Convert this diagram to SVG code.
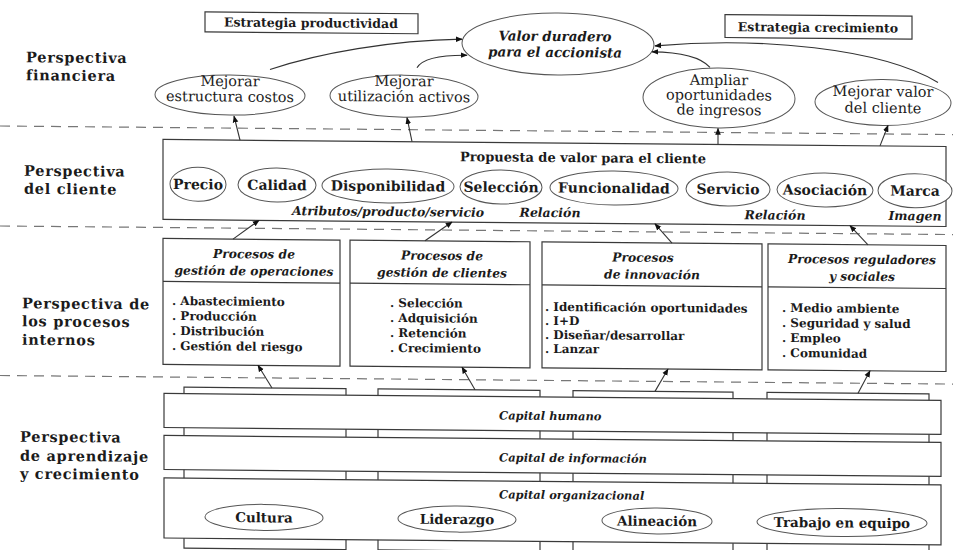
<svg xmlns="http://www.w3.org/2000/svg" width="953" height="550" viewBox="0 0 953 550">
<defs>
<style>
.t{font-family:"DejaVu Serif","Liberation Serif",serif;fill:#1b1b1b}
.b{font-weight:bold}
.i{font-style:italic}
.m{text-anchor:middle}
.lab{font-size:14.5px;font-weight:bold;letter-spacing:0.7px}
.box{fill:#fff;stroke:#3a3a3a;stroke-width:1.2}
.ell{fill:#fff;stroke:#555;stroke-width:1}
.dash{fill:none;stroke:#777;stroke-width:1.2;stroke-dasharray:10 7}
.con{fill:none;stroke:#333;stroke-width:1.1;marker-end:url(#ah)}
.fe{font-size:14.5px}
.ce{font-size:14px;font-weight:bold}
.ph{font-size:12.3px;font-weight:bold;font-style:italic}
.it{font-size:12px;font-weight:bold}
.cap{font-size:11.5px;font-weight:bold;font-style:italic}
.sub{font-size:12.5px;font-weight:bold;font-style:italic}
.le{font-size:13.5px;font-weight:bold}
</style>
<marker id="ah" viewBox="0 0 10 10" refX="9" refY="5" markerWidth="7" markerHeight="7" markerUnits="userSpaceOnUse" orient="auto"><path d="M0,1 L10,5 L0,9 z" fill="#111"/></marker>
</defs>
<rect width="953" height="550" fill="#fff"/>
<g transform="matrix(1 0.009 0 1 0 0)">
<g id="separators">
<line class="dash" x1="0" y1="126" x2="953" y2="126"/>
<line class="dash" x1="0" y1="226" x2="953" y2="226"/>
<line class="dash" x1="0" y1="375.5" x2="953" y2="375.5"/>
</g>
<g id="perspective-labels">
<text class="t lab" x="26" y="62">Perspectiva</text>
<text class="t lab" x="26" y="80">financiera</text>
<text class="t lab" x="24" y="175.5">Perspectiva</text>
<text class="t lab" x="24" y="193.5">del cliente</text>
<text class="t lab" x="22" y="308">Perspectiva de</text>
<text class="t lab" x="22" y="326">los procesos</text>
<text class="t lab" x="22" y="344.5">internos</text>
<text class="t lab" x="20" y="441.5">Perspectiva</text>
<text class="t lab" x="20" y="460.5">de aprendizaje</text>
<text class="t lab" x="20" y="478.5">y crecimiento</text>
</g>
<g id="estrategia-productividad"><rect class="box" x="205" y="10" width="213" height="20"/><text class="t b m" x="311" y="24.5" font-size="12.5">Estrategia productividad</text></g>
<g id="estrategia-crecimiento"><rect class="box" x="725" y="8" width="187" height="23"/><text class="t b m" x="818" y="24.5" font-size="12.5">Estrategia crecimiento</text></g>
<g id="valor-accionista"><ellipse class="ell" cx="558" cy="39" rx="96" ry="31"/><text class="t b i m" x="555" y="36" font-size="13.5">Valor duradero</text><text class="t b i m" x="555" y="52" font-size="13.5">para el accionista</text></g>
<g id="mejorar-costos"><ellipse class="ell" cx="230" cy="93" rx="75" ry="20"/><text class="t fe m" x="230" y="84">Mejorar</text><text class="t fe m" x="230" y="99.5">estructura costos</text></g>
<g id="mejorar-activos"><ellipse class="ell" cx="404" cy="92.5" rx="74" ry="21"/><text class="t fe m" x="404" y="82.5">Mejorar</text><text class="t fe m" x="404" y="98">utilización activos</text></g>
<g id="ampliar-ingresos"><ellipse class="ell" cx="719" cy="91.5" rx="76" ry="30"/><text class="t fe m" x="719" y="78.5">Ampliar</text><text class="t fe m" x="719" y="93.5">oportunidades</text><text class="t fe m" x="719" y="108.5">de ingresos</text></g>
<g id="mejorar-valor-cliente"><ellipse class="ell" cx="883" cy="94.5" rx="68" ry="23"/><text class="t fe m" x="883" y="88.5">Mejorar valor</text><text class="t fe m" x="883" y="105">del cliente</text></g>

<g id="propuesta-valor">
<rect class="box" x="163" y="138" width="783" height="80"/>
<text class="t b m" x="583" y="157" font-size="13">Propuesta de valor para el cliente</text>
<ellipse class="ell" cx="198" cy="182.5" rx="28" ry="17"/><text class="t ce m" x="198" y="187.5">Precio</text>
<ellipse class="ell" cx="277" cy="182.5" rx="39" ry="17"/><text class="t ce m" x="277" y="187.5">Calidad</text>
<ellipse class="ell" cx="388" cy="182.5" rx="66" ry="17"/><text class="t ce m" x="388" y="187.5">Disponibilidad</text>
<ellipse class="ell" cx="501" cy="182.5" rx="41" ry="17"/><text class="t ce m" x="501" y="187.5">Selección</text>
<ellipse class="ell" cx="614" cy="182.5" rx="64" ry="17"/><text class="t ce m" x="614" y="187.5">Funcionalidad</text>
<ellipse class="ell" cx="728" cy="182.5" rx="42" ry="17"/><text class="t ce m" x="728" y="187.5">Servicio</text>
<ellipse class="ell" cx="825" cy="182.5" rx="48" ry="17"/><text class="t ce m" x="825" y="187.5">Asociación</text>
<ellipse class="ell" cx="915" cy="182.5" rx="37" ry="17"/><text class="t ce m" x="915" y="187.5">Marca</text>
<text class="t sub m" x="388" y="212.5">Atributos/producto/servicio</text>
<text class="t sub m" x="550" y="212">Relación</text>
<text class="t sub m" x="775" y="212.5">Relación</text>
<text class="t sub m" x="915" y="212">Imagen</text>
</g>

<g id="procesos-operaciones">
<rect class="box" x="163" y="237" width="177" height="126"/><line class="box" x1="163" y1="280" x2="340" y2="280"/>
<text class="t ph m" x="254" y="256">Procesos de</text><text class="t ph m" x="254" y="273">gestión de operaciones</text>
<text class="t it" x="172" y="303.5">. Abastecimiento</text><text class="t it" x="172" y="318.5">. Producción</text><text class="t it" x="172" y="333.5">. Distribución</text><text class="t it" x="172" y="348.5">. Gestión del riesgo</text>
</g>
<g id="procesos-clientes">
<rect class="box" x="350" y="237" width="180" height="126"/><line class="box" x1="350" y1="280" x2="530" y2="280"/>
<text class="t ph m" x="442" y="256">Procesos de</text><text class="t ph m" x="442" y="273">gestión de clientes</text>
<text class="t it" x="390" y="303.5">. Selección</text><text class="t it" x="390" y="318.5">. Adquisición</text><text class="t it" x="390" y="333.5">. Retención</text><text class="t it" x="390" y="348.5">. Crecimiento</text>
</g>
<g id="procesos-innovacion">
<rect class="box" x="542" y="237" width="220" height="126"/><line class="box" x1="542" y1="280" x2="762" y2="280"/>
<text class="t ph m" x="643" y="256">Procesos</text><text class="t ph m" x="652" y="273">de innovación</text>
<text class="t it" x="545" y="306" font-size="12.4">. Identificación oportunidades</text><text class="t it" x="545" y="320" font-size="12.4">. I+D</text><text class="t it" x="545" y="334" font-size="12.4">. Diseñar/desarrollar</text><text class="t it" x="545" y="348" font-size="12.4">. Lanzar</text>
</g>
<g id="procesos-reguladores">
<rect class="box" x="768" y="237" width="178" height="126"/><line class="box" x1="768" y1="280" x2="946" y2="280"/>
<text class="t ph m" x="862" y="256">Procesos reguladores</text><text class="t ph m" x="862" y="273">y sociales</text>
<text class="t it" x="782" y="305">. Medio ambiente</text><text class="t it" x="782" y="320">. Seguridad y salud</text><text class="t it" x="782" y="335">. Empleo</text><text class="t it" x="782" y="350">. Comunidad</text>
</g>

<g id="pilares">
<rect class="box" x="184" y="385.5" width="162" height="161"/>
<rect class="box" x="378" y="385.5" width="162" height="161"/>
<rect class="box" x="573" y="385.5" width="160" height="161"/>
<rect class="box" x="767" y="385.5" width="162" height="161"/>
</g>
<g id="capital-humano"><rect class="box" x="164" y="392" width="777" height="34"/><text class="t cap" x="499" y="415">Capital humano</text></g>
<g id="capital-informacion"><rect class="box" x="164" y="434" width="777" height="34"/><text class="t cap" x="499" y="457">Capital de información</text></g>
<g id="capital-organizacional"><rect class="box" x="164" y="476.5" width="777" height="60"/><text class="t cap" x="499" y="494">Capital organizacional</text>
<ellipse class="ell" cx="264" cy="515" rx="59" ry="13"/><text class="t le m" x="264" y="520">Cultura</text>
<ellipse class="ell" cx="457" cy="515" rx="59" ry="13"/><text class="t le m" x="457" y="520">Liderazgo</text>
<ellipse class="ell" cx="657" cy="515" rx="55" ry="13"/><text class="t le m" x="657" y="520">Alineación</text>
<ellipse class="ell" cx="842" cy="515" rx="85" ry="14"/><text class="t le m" x="842" y="520">Trabajo en equipo</text>
</g>

<g id="connectors">
<path class="con" d="M270,67 C320,50 390,37 462,35"/>
<path class="con" d="M417,64 C422,55 440,51 467,51"/>
<path class="con" d="M710,61 C700,50 680,46 652,46"/>
<path class="con" d="M938,74 C880,40 760,30 655,40"/>
<path class="con" d="M240,138 L234,114"/>
<path class="con" d="M412,138 L407,114"/>
<path class="con" d="M718,138 L718,122"/>
<path class="con" d="M880,138 L888,117.5"/>
<path class="con" d="M233,237 L259,218"/>
<path class="con" d="M425,237 L452,218"/>
<path class="con" d="M672,237 L655,218"/>
<path class="con" d="M868,237 L850,218"/>
<path class="con" d="M272,385.5 L258,363"/>
<path class="con" d="M475,385.5 L462,363"/>
<path class="con" d="M655,385.5 L668,363"/>
<path class="con" d="M858,385.5 L870,363"/>
</g>
</g>
</svg>
